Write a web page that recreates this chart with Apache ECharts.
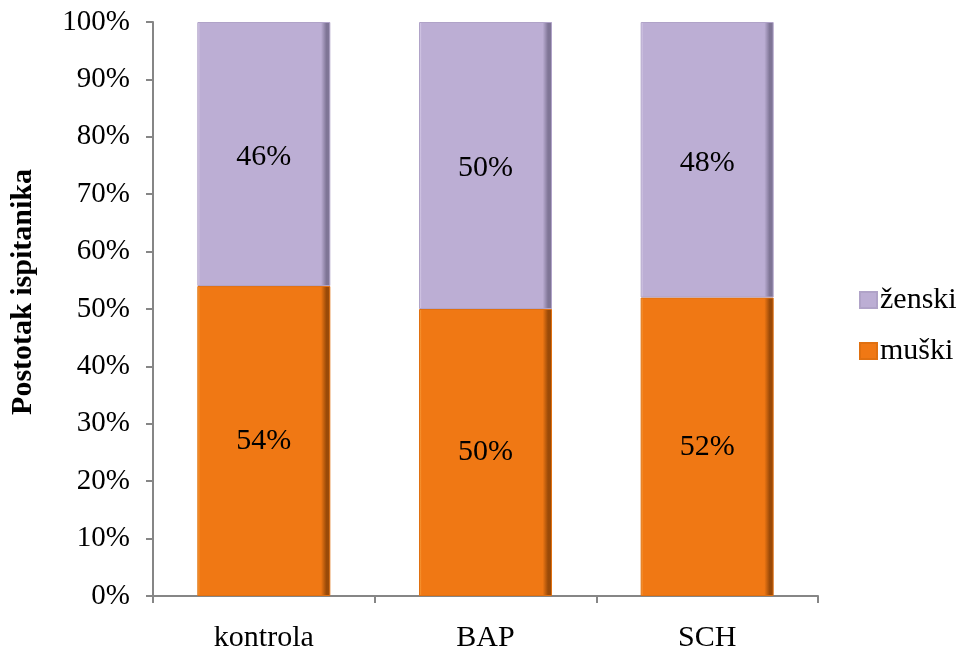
<!DOCTYPE html>
<html><head><meta charset="utf-8">
<script src="https://cdn.jsdelivr.net/npm/echarts@6/dist/echarts.min.js"></script>
<style>html,body{margin:0;padding:0;background:#fff}#c{width:959px;height:654px}</style>
</head><body><div id="c"></div>
<script>
const categories = ['kontrola', 'BAP', 'SCH'];
const muski = [54, 50, 52];
const zenski = [46, 50, 48];
const yTicks = [0, 10, 20, 30, 40, 50, 60, 70, 80, 90, 100];

const chart = echarts.init(document.getElementById('c'));
const font = 'Liberation Serif, Times New Roman, serif';
function bevel(base, light, dark) {
  return {
    type: 'linear', x: 0, y: 0, x2: 1, y2: 0,
    colorStops: [
      {offset: 0, color: light}, {offset: 0.02, color: base},
      {offset: 0.93, color: base}, {offset: 0.97, color: dark}, {offset: 1, color: dark}
    ]
  };
}
chart.setOption({
  animation: false,
  textStyle: {fontFamily: font},
  grid: {left: 153, right: 141, top: 22, bottom: 58},
  legend: {
    orient: 'vertical', left: 854, top: 280, itemWidth: 17, itemHeight: 16, itemGap: 21,
    icon: 'rect',
    data: [{name: 'ženski', itemStyle: {color: '#BCAED4'}}, {name: 'muški', itemStyle: {color: '#F07814'}}],
    textStyle: {fontFamily: font, fontSize: 30, color: '#000', padding: [0, 0, 0, -2]}
  },
  xAxis: {
    type: 'category', data: categories,
    axisLine: {lineStyle: {color: '#868686', width: 2}},
    axisTick: {show: true, alignWithLabel: false, length: 7, lineStyle: {color: '#868686', width: 2}},
    axisLabel: {fontFamily: font, fontSize: 30, color: '#000', margin: 27}
  },
  yAxis: {
    type: 'value', min: 0, max: 100, interval: 10,
    name: 'Postotak ispitanika', nameLocation: 'middle', nameGap: 115,
    nameTextStyle: {fontFamily: font, fontSize: 30, fontWeight: 'bold', color: '#000', padding: [0, 0, 0, 34]},
    splitLine: {show: false},
    axisLine: {show: true, lineStyle: {color: '#868686', width: 2}},
    axisTick: {show: true, length: 7, lineStyle: {color: '#868686', width: 2}},
    axisLabel: {fontFamily: font, fontSize: 29, color: '#000', margin: 23, formatter: '{value}%'}
  },
  series: [
    {
      name: 'muški', type: 'bar', stack: 'a', barWidth: '60%',
      data: muski,
      itemStyle: {color: bevel('#F07814', '#FBAA4A', '#9A4A08'), borderColor: '#E07010', borderWidth: 1},
      label: {show: true, position: 'inside', formatter: '{c}%', fontFamily: font, fontSize: 30, color: '#000'}
    },
    {
      name: 'ženski', type: 'bar', stack: 'a', barWidth: '60%',
      data: zenski,
      itemStyle: {color: bevel('#BCAED4', '#E4DAF2', '#7F7596'), borderColor: '#B0A3C8', borderWidth: 1},
      label: {show: true, position: 'inside', formatter: '{c}%', fontFamily: font, fontSize: 30, color: '#000', offset: [0, 3]}
    }
  ]
});
</script>
</body></html>
